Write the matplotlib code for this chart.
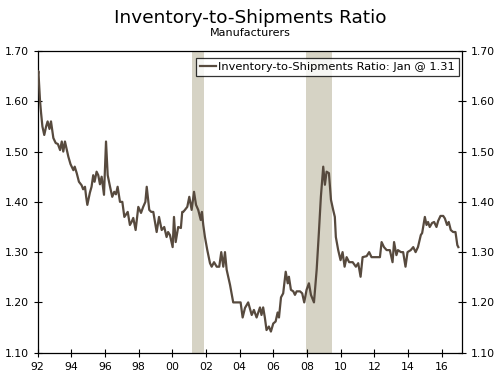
import matplotlib
matplotlib.use("Agg")
import matplotlib.pyplot as plt

# traced points: decimal year, ratio
years = [
    1992.00, 1992.04, 1992.14, 1992.20, 1992.28, 1992.39, 1992.50, 1992.59, 1992.70, 1992.79,
    1992.93, 1993.07, 1993.20, 1993.33, 1993.43, 1993.52, 1993.62, 1993.72, 1993.82, 1993.95,
    1994.12, 1994.20, 1994.32, 1994.45, 1994.61, 1994.70, 1994.81, 1994.88, 1994.95, 1995.10,
    1995.20, 1995.30, 1995.38, 1995.50, 1995.60, 1995.70, 1995.80, 1995.94, 1996.06, 1996.16,
    1996.30, 1996.43, 1996.55, 1996.65, 1996.75, 1996.89, 1997.03, 1997.15, 1997.25, 1997.35,
    1997.48, 1997.58, 1997.68, 1997.82, 1997.98, 1998.14, 1998.27, 1998.40, 1998.48, 1998.63,
    1998.75, 1998.87, 1999.07, 1999.21, 1999.37, 1999.52, 1999.66, 1999.75, 1999.86, 2000.02,
    2000.10, 2000.20, 2000.35, 2000.51, 2000.59, 2000.65, 2000.75, 2000.89, 2001.01, 2001.15,
    2001.29, 2001.41, 2001.54, 2001.69, 2001.76, 2001.84, 2001.94, 2002.08, 2002.24, 2002.34,
    2002.48, 2002.64, 2002.79, 2002.91, 2003.03, 2003.13, 2003.23, 2003.43, 2003.62, 2003.82,
    2004.06, 2004.18, 2004.32, 2004.51, 2004.72, 2004.85, 2005.01, 2005.21, 2005.30, 2005.40,
    2005.50, 2005.60, 2005.74, 2005.86, 2006.00, 2006.14, 2006.26, 2006.34, 2006.46, 2006.59,
    2006.74, 2006.86, 2006.93, 2007.05, 2007.19, 2007.29, 2007.39, 2007.59, 2007.72, 2007.84,
    2007.98, 2008.12, 2008.24, 2008.42, 2008.58, 2008.71, 2008.83, 2008.97, 2009.07, 2009.17,
    2009.31, 2009.43, 2009.56, 2009.66, 2009.72, 2009.86, 2010.00, 2010.12, 2010.24, 2010.36,
    2010.51, 2010.72, 2010.91, 2011.05, 2011.19, 2011.31, 2011.55, 2011.70, 2011.84, 2012.14,
    2012.34, 2012.44, 2012.58, 2012.74, 2012.93, 2013.09, 2013.18, 2013.32, 2013.41, 2013.59,
    2013.72, 2013.86, 2013.98, 2014.17, 2014.32, 2014.46, 2014.60, 2014.77, 2014.85, 2015.01,
    2015.11, 2015.20, 2015.30, 2015.44, 2015.56, 2015.70, 2015.80, 2015.94, 2016.10, 2016.20,
    2016.33, 2016.43, 2016.55, 2016.69, 2016.83, 2016.94, 2017.00,
]
ratio = [
    1.65, 1.66, 1.60, 1.577, 1.55, 1.533, 1.55, 1.56, 1.545, 1.56,
    1.527, 1.517, 1.515, 1.503, 1.52, 1.50, 1.52, 1.505, 1.49, 1.475,
    1.463, 1.47, 1.457, 1.44, 1.433, 1.425, 1.43, 1.41, 1.394, 1.418,
    1.43, 1.453, 1.44, 1.46, 1.453, 1.435, 1.45, 1.414, 1.52, 1.453,
    1.43, 1.41, 1.42, 1.415, 1.43, 1.40, 1.40, 1.37, 1.375, 1.38,
    1.354, 1.36, 1.368, 1.344, 1.39, 1.378, 1.39, 1.40, 1.43, 1.384,
    1.38, 1.38, 1.34, 1.37, 1.344, 1.35, 1.33, 1.34, 1.334, 1.31,
    1.37, 1.32, 1.35, 1.348, 1.38, 1.38, 1.384, 1.39, 1.41, 1.384,
    1.42, 1.394, 1.384, 1.364, 1.38, 1.354, 1.33, 1.304, 1.278, 1.271,
    1.28, 1.271, 1.271, 1.30, 1.271, 1.30, 1.265, 1.235, 1.20, 1.20,
    1.20, 1.17, 1.189, 1.20, 1.175, 1.185, 1.17, 1.19, 1.175, 1.19,
    1.17, 1.145, 1.152, 1.142, 1.158, 1.162, 1.18, 1.17, 1.21, 1.218,
    1.261, 1.238, 1.251, 1.225, 1.222, 1.215, 1.222, 1.222, 1.218, 1.20,
    1.225, 1.238, 1.215, 1.20, 1.265, 1.338, 1.41, 1.47, 1.434, 1.46,
    1.457, 1.404, 1.384, 1.37, 1.33, 1.304, 1.284, 1.30, 1.271, 1.29,
    1.28, 1.28, 1.271, 1.278, 1.251, 1.29, 1.292, 1.30, 1.29, 1.29,
    1.29, 1.32, 1.31, 1.304, 1.304, 1.28, 1.32, 1.294, 1.304, 1.30,
    1.30, 1.271, 1.30, 1.304, 1.31, 1.30, 1.31, 1.334, 1.338, 1.37,
    1.354, 1.36, 1.35, 1.358, 1.36, 1.35, 1.362, 1.372, 1.372, 1.367,
    1.354, 1.36, 1.344, 1.34, 1.34, 1.314, 1.31,
]

# recessions (start, end)
rec_start = [2001.17, 2007.92]
rec_end = [2001.88, 2009.47]

tick_years = list(range(1992, 2017, 2))
tick_labels = [f"{y % 100:02d}" for y in tick_years]
y_ticks = [1.10, 1.20, 1.30, 1.40, 1.50, 1.60, 1.70]

line_color = "#574a3e"
shade_color = "#d6d3c5"

fig = plt.figure(figsize=(5, 3.78), dpi=100)
ax = fig.add_axes([0.0754, 0.067, 0.848, 0.798])

for s, e in zip(rec_start, rec_end):
    ax.axvspan(s, e, color=shade_color, lw=0, zorder=0)

ax.plot(years, ratio, color=line_color, lw=1.6, zorder=3,
        label="Inventory-to-Shipments Ratio: Jan @ 1.31")

ax.set_xlim(1992, 2017.2)
ax.set_ylim(1.10, 1.70)
ax.set_xticks(tick_years)
ax.set_xticklabels(tick_labels)
ax.set_yticks(y_ticks)
ax.set_yticklabels([f"{v:.2f}" for v in y_ticks])

ax.tick_params(axis="both", direction="inout", length=6, width=0.8,
               labelsize=7.8, colors="black")
ax.tick_params(axis="y", right=True, labelright=True)
ax.tick_params(axis="x", pad=4)
for sp in ax.spines.values():
    sp.set_linewidth(0.9)

leg = ax.legend(loc="upper right", bbox_to_anchor=(0.993, 0.978), fontsize=8.2,
                frameon=True, fancybox=False, handlelength=1.4,
                handletextpad=0.15, borderpad=0.35, borderaxespad=0)
leg.get_frame().set_edgecolor("black")
leg.get_frame().set_linewidth(0.9)

fig.text(0.5, 0.952, "Inventory-to-Shipments Ratio", ha="center", va="center",
         fontsize=13.3)
fig.text(0.5, 0.913, "Manufacturers", ha="center", va="center", fontsize=8)

fig.savefig("out.png", dpi=100)
